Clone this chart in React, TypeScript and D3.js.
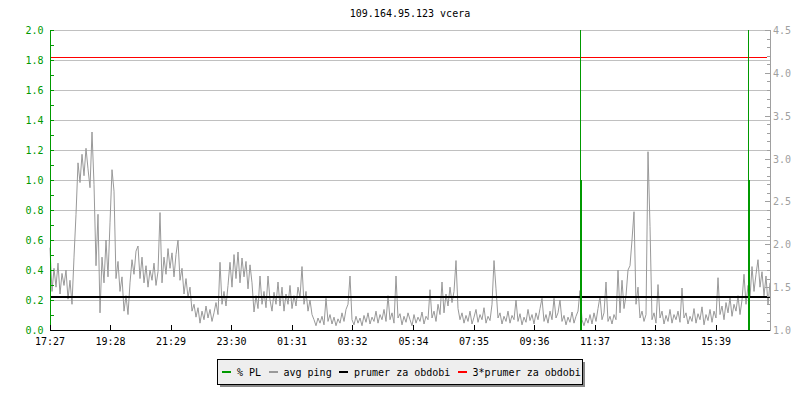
import React, { useEffect } from 'react';
import * as d3 from 'd3';

// ---------- data ----------
const title = '109.164.95.123 vcera';
const tickLabels = ['17:27', '19:28', '21:29', '23:30', '01:31', '03:32', '05:34', '07:35', '09:36', '11:37', '13:38', '15:39'];
const tickMinutes = [0, 121, 242, 363, 484, 605, 727, 848, 969, 1090, 1211, 1332];
const spanMinutes = 1440;
const sampleMinutes = 4;

// avg ping, one sample every 4 minutes (right axis units)
const avgPing = [
  1.96, 1.45, 1.72, 1.50, 1.78, 1.42, 1.66, 1.52, 1.70, 1.36,
  1.58, 1.30, 1.85, 2.35, 2.95, 2.72, 3.05, 2.80, 3.12, 2.88,
  2.66, 3.31, 2.70, 1.75, 2.35, 1.20, 1.85, 1.55, 2.05, 1.62,
  2.25, 2.87, 2.62, 1.60, 1.80, 1.45, 1.62, 1.22, 1.40, 1.18,
  1.55, 1.82, 1.65, 1.92, 1.98, 1.60, 1.85, 1.55, 1.75, 1.50,
  1.70, 1.58, 1.78, 1.52, 1.68, 2.37, 1.55, 1.85, 1.65, 1.95,
  1.72, 1.90, 1.62, 1.88, 2.05, 1.58, 1.72, 1.42, 1.60, 1.38,
  1.50, 1.22, 1.30, 1.15, 1.26, 1.08, 1.22, 1.12, 1.28, 1.14,
  1.24, 1.10, 1.20, 1.32, 1.18, 1.79, 1.30, 1.45, 1.28, 1.52,
  1.79, 1.50, 1.88, 1.60, 1.91, 1.55, 1.84, 1.62, 1.80, 1.48,
  1.76, 1.55, 1.21, 1.40, 1.25, 1.63, 1.30, 1.45, 1.26, 1.63,
  1.35, 1.22, 1.44, 1.30, 1.56, 1.28, 1.50, 1.22, 1.42, 1.30,
  1.52, 1.25, 1.40, 1.28, 1.50, 1.38, 1.74, 1.30, 1.45, 1.22,
  1.35, 1.18, 1.12, 1.05, 1.14, 1.08, 1.16, 1.06, 1.37, 1.10,
  1.18, 1.07, 1.15, 1.05, 1.13, 1.08, 1.20, 1.10, 1.24, 1.30,
  1.63, 1.12, 1.06, 1.16, 1.08, 1.14, 1.05, 1.17, 1.09, 1.20,
  1.07, 1.15, 1.10, 1.22, 1.08, 1.18, 1.12, 1.24, 1.10, 1.40,
  1.12, 1.20, 1.08, 1.63, 1.14, 1.19, 1.06, 1.16, 1.09, 1.20,
  1.12, 1.05, 1.18, 1.08, 1.15, 1.10, 1.21, 1.07, 1.16, 1.12,
  1.47, 1.14, 1.22, 1.10, 1.30, 1.18, 1.56, 1.20, 1.42, 1.28,
  1.50, 1.32, 1.45, 1.81, 1.25, 1.12, 1.20, 1.08, 1.17, 1.10,
  1.22, 1.07, 1.15, 1.24, 1.09, 1.18, 1.12, 1.26, 1.08, 1.16,
  1.11, 1.30, 1.81, 1.48, 1.14, 1.20, 1.07, 1.16, 1.10, 1.22,
  1.08, 1.17, 1.12, 1.35, 1.10, 1.19, 1.06, 1.15, 1.09, 1.24,
  1.11, 1.18, 1.07, 1.20, 1.12, 1.25, 1.37, 1.10, 1.18, 1.08,
  1.22, 1.12, 1.37, 1.14, 1.20, 1.35, 1.10, 1.17, 1.06, 1.15,
  1.09, 1.21, 1.08, 1.16, 1.22, 1.46, 1.12, 1.05, 1.14, 1.08,
  1.18, 1.07, 1.20, 1.10, 1.25, 1.39, 1.12, 1.20, 1.56, 1.10,
  1.16, 1.07, 1.18, 1.12, 1.70, 1.20, 1.58, 1.25, 1.40, 1.70,
  1.75, 2.05, 2.38, 1.30, 1.50, 1.14, 1.22, 1.10, 1.18, 3.08,
  2.21, 1.12, 1.20, 1.08, 1.53, 1.14, 1.22, 1.07, 1.17, 1.10,
  1.24, 1.08, 1.18, 1.12, 1.22, 1.09, 1.49, 1.14, 1.20, 1.07,
  1.16, 1.10, 1.25, 1.08, 1.19, 1.12, 1.27, 1.06, 1.18, 1.11,
  1.24, 1.09, 1.22, 1.14, 1.61, 1.18, 1.28, 1.12, 1.32, 1.20,
  1.38, 1.16, 1.30, 1.22, 1.40, 1.18, 1.35, 1.65, 1.30, 1.52,
  1.38, 1.74, 1.45, 1.65, 1.82, 1.50, 1.68, 1.40, 1.63, 1.30,
  1.55,
];

// packet loss events (left axis, %)
const plMinutes = [1061, 1396];
const plValues = [1.0, 1.0];

const pingMean = 1.39;
const pingMean3 = 4.19;

const leftLabels = [0, 0.2, 0.4, 0.6, 0.8, 1.0, 1.2, 1.4, 1.6, 1.8, 2.0];
const rightLabels = [1.0, 1.5, 2.0, 2.5, 3.0, 3.5, 4.0, 4.5];

const GREEN = '#009900';
const GREY = '#999999';
const RED = '#ff0000';
const BLACK = '#000000';

const legendItems = [
  { label: '% PL', color: GREEN },
  { label: 'avg ping', color: GREY },
  { label: 'prumer za obdobi', color: BLACK },
  { label: '3*prumer za obdobi', color: RED },
];

// ---------- layout ----------
const W = 800;
const H = 400;
const L = 50;
const R = 770;
const T = 30;
const B = 330;
const FONT = '"DejaVu Sans Mono", monospace';

export default function App() {
  useEffect(() => {
    document.body.style.margin = '0';
  }, []);

  const x = d3.scaleLinear().domain([0, spanMinutes]).range([L, R]);
  const yL = d3.scaleLinear().domain([0, 2]).range([B, T]);
  const yR = d3.scaleLinear().domain([1, 4.5]).range([B, T]);

  const pingLine = d3
    .line<number>()
    .x((_, i) => x(i * sampleMinutes))
    .y((d) => yR(d))
    .curve(d3.curveLinear);

  const leftMinor = d3.range(0, 2.001, 0.1);
  const rightMinor = d3.range(1, 4.501, 0.1);

  const charW = 6.0;
  let lx = 222;
  const legendLayout = legendItems.map((it) => {
    const item = { ...it, sx: lx, tx: lx + 15 };
    lx = lx + 15 + it.label.length * charW + 7.5;
    return item;
  });

  const px = (m: number) => Math.floor(x(m)) + 0.5;

  return (
    <svg
      width={W}
      height={H}
      style={{ position: 'absolute', left: 0, top: 0, background: '#fff' }}
      fontFamily={FONT}
      fontSize={10}
    >
      <rect x={0} y={0} width={W} height={H} fill="#fff" />
      <text x={(L + R) / 2} y={17} textAnchor="middle" fill="#000">
        {title}
      </text>

      {/* grid */}
      <g shapeRendering="crispEdges">
        {leftLabels.map((v) => (
          <line key={'g' + v} x1={L + 4} x2={R} y1={Math.round(yL(v)) + 0.5} y2={Math.round(yL(v)) + 0.5} stroke="#c0c0c0" />
        ))}
      </g>

      {/* ping */}
      <path d={pingLine(avgPing) || ''} fill="none" stroke={GREY} strokeWidth={1} />

      {/* mean lines */}
      <g shapeRendering="crispEdges">
        <line x1={L} x2={R} y1={yR(pingMean)} y2={yR(pingMean)} stroke={BLACK} strokeWidth={2} />
        <line x1={L} x2={R - 3} y1={Math.round(yR(pingMean3)) + 0.5} y2={Math.round(yR(pingMean3)) + 0.5} stroke={RED} strokeWidth={1} />
      </g>

      {/* packet loss */}
      <g shapeRendering="crispEdges">
        {plMinutes.map((m, i) => (
          <g key={'pl' + i}>
            <line x1={px(m)} x2={px(m)} y1={T} y2={B} stroke={GREEN} strokeWidth={1} />
            <line x1={px(m) + 0.5} x2={px(m) + 0.5} y1={yL(plValues[i])} y2={B} stroke={GREEN} strokeWidth={2} />
          </g>
        ))}
      </g>

      {/* left axis */}
      <g shapeRendering="crispEdges">
        <line x1={L + 0.5} x2={L + 0.5} y1={T} y2={B} stroke={GREEN} />
        {leftMinor.map((v, i) => (
          <line key={'lt' + i} x1={L} x2={L + 4} y1={Math.round(yL(v)) + 0.5} y2={Math.round(yL(v)) + 0.5} stroke={GREEN} />
        ))}
      </g>
      {leftLabels.map((v) => (
        <text key={'ll' + v} x={43.5} y={yL(v) + 4} textAnchor="end" fill={GREEN}>
          {v.toFixed(1)}
        </text>
      ))}

      {/* right axis */}
      <g shapeRendering="crispEdges">
        <line x1={R + 0.5} x2={R + 0.5} y1={T} y2={B} stroke="#a0a0a0" />
        {rightMinor.map((v, i) => {
          const major = Math.abs(v * 2 - Math.round(v * 2)) < 1e-6;
          return (
            <line
              key={'rt' + i}
              x1={major ? R - 5 : R - 3}
              x2={R + 1}
              y1={Math.round(yR(v)) + 0.5}
              y2={Math.round(yR(v)) + 0.5}
              stroke="#a0a0a0"
            />
          );
        })}
      </g>
      {rightLabels.map((v) => (
        <text key={'rl' + v} x={773} y={yR(v) + 4} textAnchor="start" fill="#a0a0a0">
          {v.toFixed(1)}
        </text>
      ))}

      {/* bottom axis */}
      <g shapeRendering="crispEdges">
        <line x1={L} x2={R} y1={B + 0.5} y2={B + 0.5} stroke={BLACK} />
        {tickMinutes.map((m) => (
          <line key={'bt' + m} x1={px(m)} x2={px(m)} y1={B - 5} y2={B} stroke={BLACK} />
        ))}
      </g>
      {tickMinutes.map((m, i) => (
        <text key={'bl' + m} x={x(m)} y={345} textAnchor="middle" fill="#000">
          {tickLabels[i]}
        </text>
      ))}

      {/* legend */}
      <g shapeRendering="crispEdges">
        <rect x={220} y={362} width={365} height={25} fill="#888888" />
        <rect x={217.5} y={359.5} width={365} height={25} fill="#eeeeee" stroke="#000" />
      </g>
      {legendLayout.map((it) => (
        <g key={it.label}>
          <line x1={it.sx} x2={it.sx + 9} y1={372} y2={372} stroke={it.color} strokeWidth={2} shapeRendering="crispEdges" />
          <text x={it.tx} y={375.5} fill="#000">
            {it.label}
          </text>
        </g>
      ))}
    </svg>
  );
}
